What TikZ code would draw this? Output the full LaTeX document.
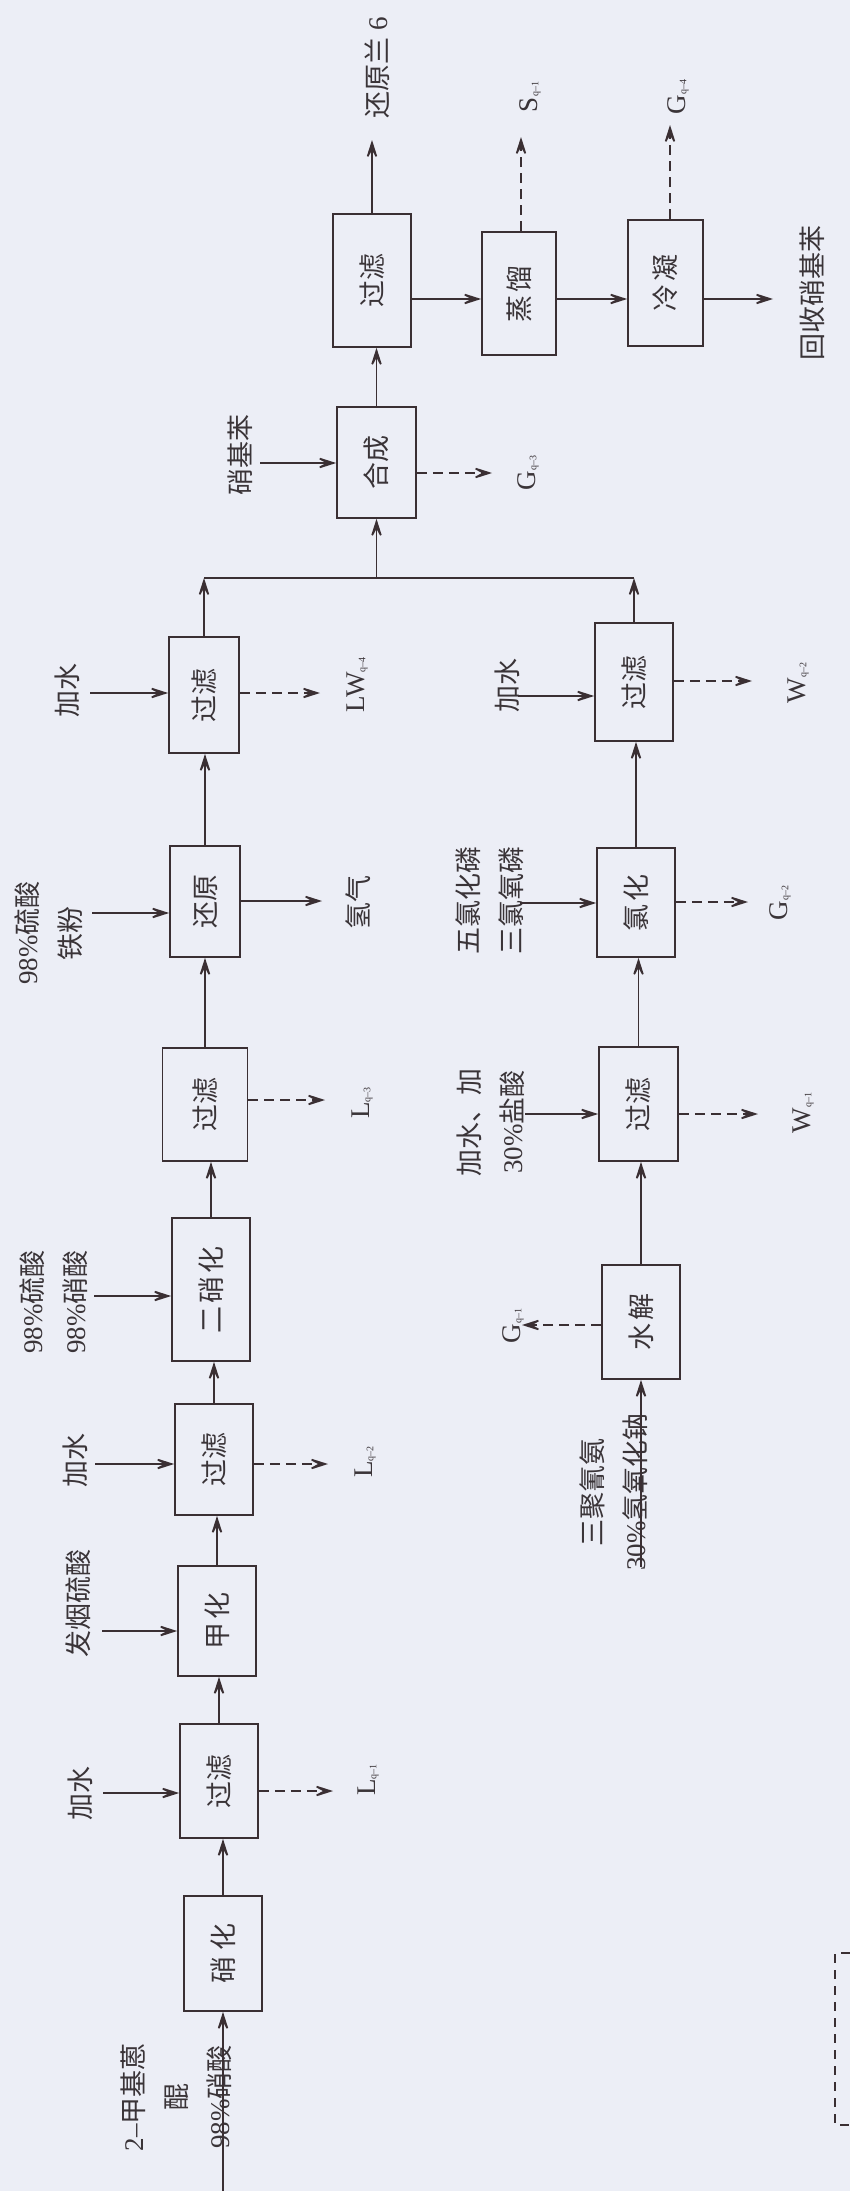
\documentclass[tikz,border=0pt]{standalone}
\usepackage{graphicx}
\usepackage{fontspec}
\setmainfont{Liberation Serif}
\newfontfamily\cjk{Noto Sans CJK SC}
\usetikzlibrary{arrows.meta,calc}
\definecolor{bg}{HTML}{ECEEF6}
\definecolor{lc}{HTML}{3A2F33}
\definecolor{tc}{HTML}{3A3438}
\newcommand{\zh}[1]{{\cjk #1}}
\newcommand{\rot}[1]{\rotatebox{90}{#1}}
\newcommand{\sbx}[1]{\raisebox{-1pt}{\fontsize{10}{10}\selectfont #1}}
\tikzset{
  box/.style={draw=lc, line width=1.7pt, inner sep=0pt, text=tc},
  lbl/.style={rotate=90, align=center, inner sep=0pt, text=tc},
  arr/.style={draw=lc, line width=1.7pt, -{Stealth[length=25pt,width=16pt,inset=15pt]}},
  dsh/.style={arr, dash pattern=on 10pt off 6pt},
  ln/.style={draw=lc, line width=1.7pt}
}
\begin{document}
\begin{tikzpicture}[x=1pt,y=-1pt,font=\fontsize{27}{43}\selectfont]
\fill[bg] (0,0) rectangle (850,2191);
\useasboundingbox (0,0) rectangle (850,2191);

% ---- left chain boxes
\node[box, minimum width=78pt, minimum height=115pt] (xh) at (223,1953.5) {\rot{\zh{硝\hspace{6pt}化}}};
\node[box, minimum width=78pt, minimum height=114pt] (gl1) at (219,1781) {\rot{\zh{过滤}}};
\node[box, minimum width=78pt, minimum height=110pt] (jh) at (217,1621) {\rot{\zh{甲\hspace{3pt}化}}};
\node[box, minimum width=78pt, minimum height=111pt] (gl2) at (214,1459.5) {\rot{\zh{过滤}}};
\node[box, minimum width=78pt, minimum height=143pt] (exh) at (211,1289.5) {\rot{\zh{二\hspace{3pt}硝\hspace{3pt}化}}};
\node[box, minimum width=85pt, minimum height=113pt] (gl3) at (205,1104.5) {\rot{\zh{过滤}}};
\node[box, minimum width=70pt, minimum height=111pt] (hy) at (205,901.5) {\rot{\zh{还原}}};
\node[box, minimum width=70pt, minimum height=116pt] (gl4) at (204,695) {\rot{\zh{过滤}}};

% ---- top boxes
\node[box, minimum width=79pt, minimum height=111pt] (hc) at (376.5,462.5) {\rot{\zh{合成}}};
\node[box, minimum width=78pt, minimum height=133pt] (gl5) at (372,280.5) {\rot{\zh{过滤}}};
\node[box, minimum width=74pt, minimum height=123pt] (zl) at (519,293.5) {\rot{\zh{蒸\hspace{3pt}馏}}};
\node[box, minimum width=75pt, minimum height=126pt] (lnn) at (665.5,283) {\rot{\zh{冷\hspace{3pt}凝}}};

% ---- right chain boxes
\node[box, minimum width=78pt, minimum height=118pt] (glw) at (634,682) {\rot{\zh{过滤}}};
\node[box, minimum width=78pt, minimum height=109pt] (lh) at (636,902.5) {\rot{\zh{氯\hspace{3pt}化}}};
\node[box, minimum width=79pt, minimum height=114pt] (gla) at (638.5,1104) {\rot{\zh{过滤}}};
\node[box, minimum width=78pt, minimum height=114pt] (sj) at (641,1322) {\rot{\zh{水\hspace{3pt}解}}};

% ---- labels
\node[lbl] (t0) at (176,2097) {2–\zh{甲基蒽}\\\zh{醌}\\98\%\zh{硝酸}};
\node[lbl] (t1) at (80,1793) {\zh{加水}};
\node[lbl] (t2) at (78,1603) {\zh{发烟硫酸}};
\node[lbl] (t3) at (75,1460) {\zh{加水}};
\node[lbl] (t4) at (54,1302) {98\%\zh{硫酸}\\98\%\zh{硝酸}};
\node[lbl] (t5) at (49,933) {98\%\zh{硫酸}\\\zh{铁粉}};
\node[lbl] (t6) at (67,690) {\zh{加水}};
\node[lbl] (t7) at (240,455) {\zh{硝基苯}};
\node[lbl] (t8) at (377,68) {\zh{还原兰} 6};
\node[lbl] (t9) at (812,293) {\zh{回收硝基苯}};
\node[lbl] (t10) at (358,902) {\zh{氢气}};
\node[lbl] (t11) at (507,685) {\zh{加水}};
\node[lbl] (t12) at (490,900) {\zh{五氯化磷}\\\zh{三氯氧磷}};
\node[lbl] (t13) at (491,1122) {\zh{加水、加}\\30\%\zh{盐酸}};
\node[lbl] (t14) at (614,1492) {\zh{三聚氰氨}\\30\%\zh{氢氧化钠}};

\node[lbl] (e1) at (368,1780) {L\sbx{q–1}};
\node[lbl] (e2) at (365,1462) {L\sbx{q–2}};
\node[lbl] (e3) at (362,1103) {L\sbx{q–3}};
\node[lbl] (e4) at (357,685) {LW\sbx{q–4}};
\node[lbl] (e5) at (528,473) {G\sbx{q–3}};
\node[lbl] (e6) at (798,683) {W\sbx{q–2}};
\node[lbl] (e7) at (780,903) {G\sbx{q–2}};
\node[lbl] (e8) at (803,1113) {W\sbx{q–1}};
\node[lbl] (e9) at (513,1326) {G\sbx{q–1}};
\node[lbl] (e10) at (530,97) {S\sbx{q–1}};
\node[lbl] (e11) at (678,97) {G\sbx{q–4}};

% ---- coordinates
\coordinate (in0) at (223,2191);
\coordinate (s1) at (103,1793);
\coordinate (s2) at (102,1631);
\coordinate (s3) at (95,1464);
\coordinate (s4) at (94,1296);
\coordinate (s5) at (92,913);
\coordinate (s6) at (90,693);
\coordinate (d1) at (333,1791);
\coordinate (d2) at (328,1464);
\coordinate (d3) at (325,1100);
\coordinate (d4) at (320,693);
\coordinate (h1) at (322,901);
\coordinate (m1) at (204,578);
\coordinate (m2) at (634,578);
\coordinate (s7) at (260,463);
\coordinate (d5) at (492,473);
\coordinate (yh) at (0,299);
\coordinate (o1) at (372,140);
\coordinate (d6) at (521,137);
\coordinate (d7) at (670,125);
\coordinate (o2) at (773,299);
\coordinate (in1) at (641,1567);
\coordinate (d8) at (522,1325);
\coordinate (s8) at (525,1114);
\coordinate (s9) at (520,903);
\coordinate (s10) at (518,696);
\coordinate (d9) at (758,1114);
\coordinate (d10) at (748,902);
\coordinate (d11) at (752,681);

% ---- left chain connectors
\draw[arr] (in0) -- (xh.south);
\draw[arr] (xh.north) -- (xh.north |- gl1.south);
\draw[arr] (gl1.north) -- (gl1.north |- jh.south);
\draw[arr] (jh.north) -- (jh.north |- gl2.south);
\draw[arr] (gl2.north) -- (gl2.north |- exh.south);
\draw[arr] (exh.north) -- (exh.north |- gl3.south);
\draw[arr] (gl3.north) -- (gl3.north |- hy.south);
\draw[arr] (hy.north) -- (hy.north |- gl4.south);
\draw[arr] (gl4.north) -- (m1);

\draw[arr] (s1) -- (s1 -| gl1.west);
\draw[arr] (s2) -- (s2 -| jh.west);
\draw[arr] (s3) -- (s3 -| gl2.west);
\draw[arr] (s4) -- (s4 -| exh.west);
\draw[arr] (s5) -- (s5 -| hy.west);
\draw[arr] (s6) -- (s6 -| gl4.west);

\draw[dsh] (d1 -| gl1.east) -- (d1);
\draw[dsh] (d2 -| gl2.east) -- (d2);
\draw[dsh] (d3 -| gl3.east) -- (d3);
\draw[dsh] (d4 -| gl4.east) -- (d4);
\draw[arr] (h1 -| hy.east) -- (h1);

% ---- merge and top
\draw[ln] (m1) -- (m2);
\draw[arr] (glw.north) -- (m2);
\draw[arr] (m1 -| hc.south) -- (hc.south);
\draw[arr] (s7) -- (s7 -| hc.west);
\draw[dsh] (d5 -| hc.east) -- (d5);
\draw[arr] (hc.north) -- (hc.north |- gl5.south);
\draw[arr] (gl5.north) -- (o1);
\draw[arr] (yh -| gl5.east) -- (yh -| zl.west);
\draw[arr] (yh -| zl.east) -- (yh -| lnn.west);
\draw[arr] (yh -| lnn.east) -- (o2);
\draw[dsh] (d6 |- zl.north) -- (d6);
\draw[dsh] (d7 |- lnn.north) -- (d7);

% ---- right chain
\draw[arr] (in1) -- (sj.south);
\draw[dsh] (d8 -| sj.west) -- (d8);
\draw[arr] (sj.north) -- (sj.north |- gla.south);
\draw[arr] (gla.north) -- (gla.north |- lh.south);
\draw[arr] (lh.north) -- (lh.north |- glw.south);
\draw[arr] (s8) -- (s8 -| gla.west);
\draw[arr] (s9) -- (s9 -| lh.west);
\draw[arr] (s10) -- (s10 -| glw.west);
\draw[dsh] (d9 -| gla.east) -- (d9);
\draw[dsh] (d10 -| lh.east) -- (d10);
\draw[dsh] (d11 -| glw.east) -- (d11);

% ---- partial dashed frame at lower right
\draw[lc, line width=1.4pt, dash pattern=on 9pt off 7pt] (850,1953) -- (835,1953) -- (835,2125) -- (850,2125);
\end{tikzpicture}
\end{document}
